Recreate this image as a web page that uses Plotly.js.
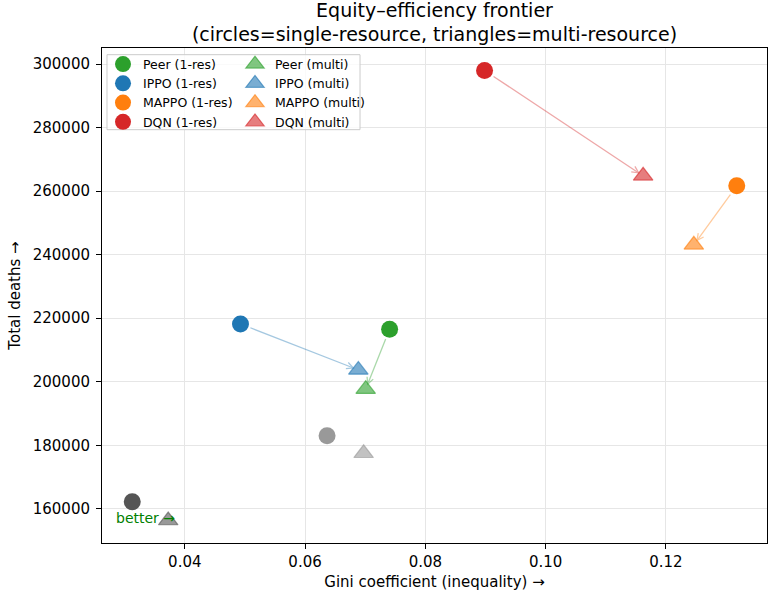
<!DOCTYPE html>
<html>
<head>
<meta charset="utf-8">
<script src="https://cdn.plot.ly/plotly-3.0.1.min.js"></script>
<style>html,body{margin:0;padding:0;background:#fff;}#chart{width:770px;height:593px;}</style>
</head>
<body>
<div id="chart"></div>
<script>
// ---- data ----
const methods = ['Peer', 'IPPO', 'MAPPO', 'DQN'];
const colors = ['#2ca02c', '#1f77b4', '#ff7f0e', '#d62728'];
const giniSingle = [0.07406, 0.04926, 0.13179, 0.08985];
const deathsSingle = [216540, 218200, 261670, 297980];
const giniMulti = [0.07008, 0.06886, 0.12465, 0.11622];
const deathsMulti = [197670, 203720, 243090, 264820];
// unlabelled grey reference points
const baseGiniSingle = [0.03126, 0.06366];
const baseDeathsSingle = [162240, 183020];
const baseGiniMulti = [0.03724, 0.06974];
const baseDeathsMulti = [156310, 177480];
const baseColors = ['#555555', '#999999'];
const xTicks = [0.04, 0.06, 0.08, 0.10, 0.12];
const yTicks = [160000, 180000, 200000, 220000, 240000, 260000, 280000, 300000];

function rgba(hex, a) {
  const n = parseInt(hex.slice(1), 16);
  return 'rgba(' + ((n >> 16) & 255) + ',' + ((n >> 8) & 255) + ',' + (n & 255) + ',' + a + ')';
}

const FONT = 'DejaVu Sans, sans-serif';
const traces = [];
// grey baselines (no legend)
traces.push({
  type: 'scatter', mode: 'markers', x: baseGiniSingle, y: baseDeathsSingle, showlegend: false, hoverinfo: 'skip',
  marker: {symbol: 'circle', size: 17, color: baseColors, line: {width: 0}}
});
traces.push({
  type: 'scatter', mode: 'markers', x: baseGiniMulti, y: baseDeathsMulti, showlegend: false, hoverinfo: 'skip',
  marker: {symbol: 'triangle-up', size: 17, color: baseColors.map(c => rgba(c, 0.6)),
           line: {width: 1.2, color: baseColors.map(c => rgba(c, 0.6))}}
});
methods.forEach((m, i) => {
  traces.push({
    type: 'scatter', mode: 'markers', name: m + ' (1-res)', legend: 'legend',
    x: [giniSingle[i]], y: [deathsSingle[i]],
    marker: {symbol: 'circle', size: 17, color: colors[i], line: {width: 0}}
  });
});
methods.forEach((m, i) => {
  traces.push({
    type: 'scatter', mode: 'markers', name: m + ' (multi)', legend: 'legend2',
    x: [giniMulti[i]], y: [deathsMulti[i]],
    marker: {symbol: 'triangle-up', size: 17, color: rgba(colors[i], 0.6),
             line: {width: 1.2, color: rgba(colors[i], 0.6)}}
  });
});

const annotations = methods.map((m, i) => ({
  x: giniMulti[i], y: deathsMulti[i], ax: giniSingle[i], ay: deathsSingle[i],
  xref: 'x', yref: 'y', axref: 'x', ayref: 'y', text: '', showarrow: true,
  arrowhead: 5, arrowsize: 1, arrowwidth: 1.3, arrowcolor: rgba(colors[i], 0.4),
  standoff: 4, startstandoff: 9
}));
annotations.push({
  x: 0.03339, y: 157200, xref: 'x', yref: 'y', text: 'better →', showarrow: false,
  font: {family: FONT, size: 14, color: '#008000'}, xanchor: 'center', yanchor: 'middle'
});

const axisCommon = {
  showline: true, mirror: true, linecolor: '#000', linewidth: 1,
  ticks: 'outside', ticklen: 5, tickwidth: 1, tickcolor: '#000',
  showgrid: true, gridcolor: '#e6e6e6', gridwidth: 1, zeroline: false,
  tickfont: {family: FONT, size: 15, color: '#000'}, automargin: false
};

const layout = {
  width: 770, height: 593,
  margin: {l: 102, r: 3, t: 48, b: 50},
  paper_bgcolor: '#fff', plot_bgcolor: '#fff',
  font: {family: FONT, color: '#000'},
  title: {text: 'Equity–efficiency frontier<br>(circles=single-resource, triangles=multi-resource)',
          font: {family: FONT, size: 19, color: '#000'}, xref: 'paper', x: 0.5, xanchor: 'center',
          yref: 'container', y: 0.972, yanchor: 'top'},
  xaxis: Object.assign({}, axisCommon, {
    range: [0.02623, 0.13682], tickvals: xTicks, tickformat: '.2f',
    title: {text: 'Gini coefficient (inequality) →', font: {family: FONT, size: 15, color: '#000'}, standoff: 6}
  }),
  yaxis: Object.assign({}, axisCommon, {
    range: [149230, 305060], tickvals: yTicks, tickformat: 'd', ticklabelstandoff: 3,
    title: {text: 'Total deaths →', font: {family: FONT, size: 15, color: '#000'}, standoff: 8}
  }),
  legend: {x: 0.0015, y: 0.997, xanchor: 'left', yanchor: 'top', bgcolor: 'rgba(0,0,0,0)',
           font: {family: FONT, size: 12.5, color: '#000'}, tracegroupgap: 0, itemsizing: 'trace'},
  legend2: {x: 0.2, y: 0.997, xanchor: 'left', yanchor: 'top', bgcolor: 'rgba(0,0,0,0)',
            font: {family: FONT, size: 12.5, color: '#000'}, tracegroupgap: 0, itemsizing: 'trace'},
  shapes: [{type: 'rect', xref: 'paper', yref: 'paper', x0: 0.0075, x1: 0.388, y0: 0.835, y1: 0.9865,
            fillcolor: 'rgba(255,255,255,0.8)', line: {color: '#cccccc', width: 1}, layer: 'above'}],
  annotations: annotations,
  showlegend: true
};

Plotly.newPlot('chart', traces, layout, {displayModeBar: false, staticPlot: true});
</script>
</body>
</html>
